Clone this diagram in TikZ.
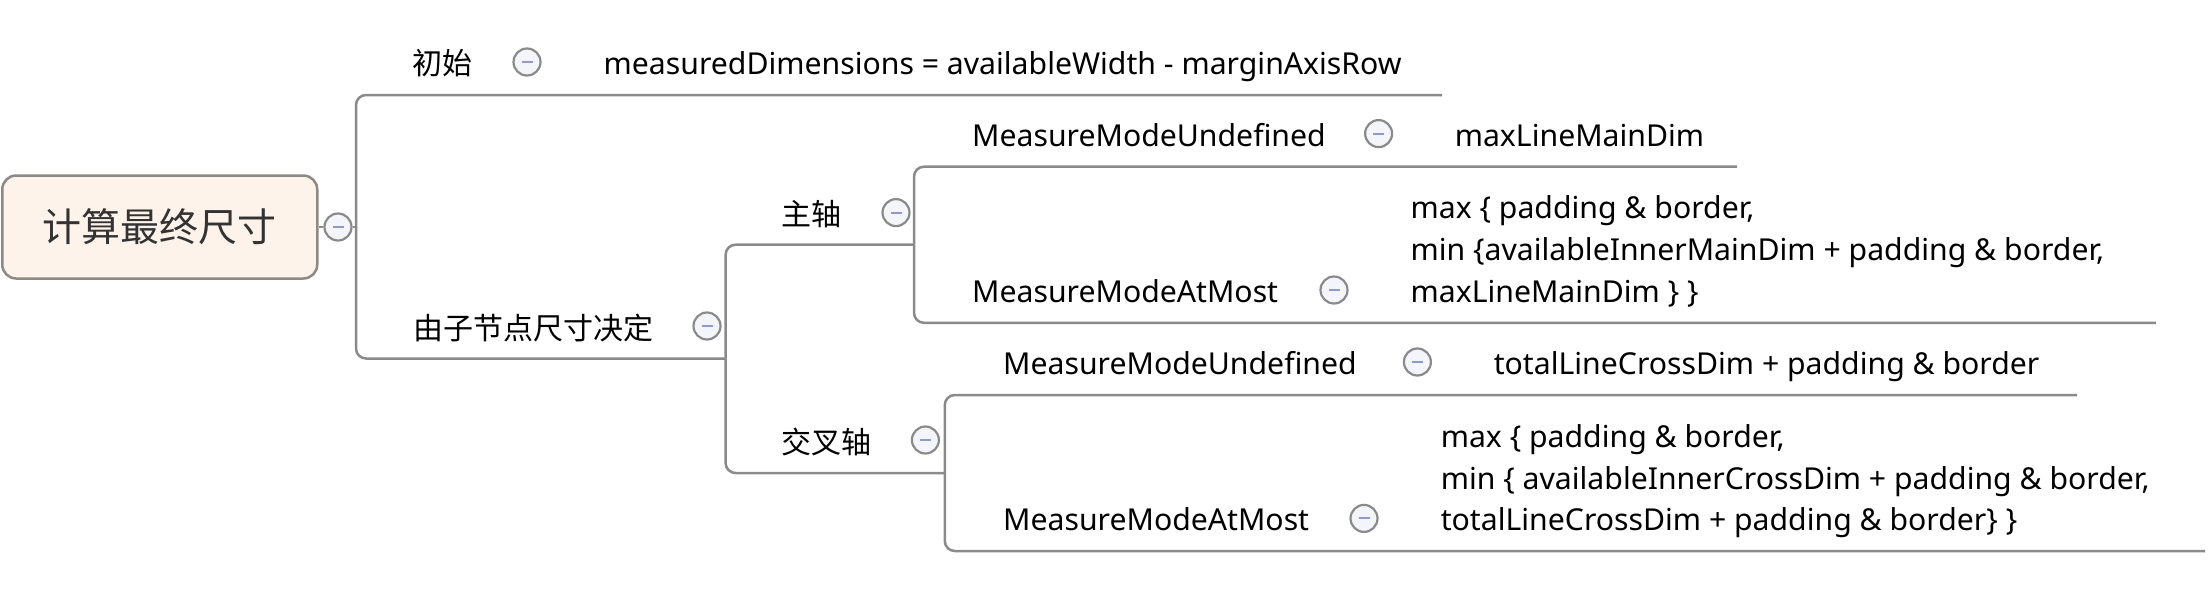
\documentclass[tikz,border=0pt]{standalone}
\usepackage{fontspec}
\setmainfont{Noto Sans}
\newfontfamily\cjk{Noto Sans CJK SC}
\definecolor{linegray}{HTML}{8A8A8A}
\definecolor{rootfill}{HTML}{FDF3EA}
\definecolor{rootdraw}{HTML}{8E8985}
\definecolor{minusblue}{HTML}{8E9AC8}
\definecolor{btnfill}{HTML}{F4F5FA}
\tikzset{
  conn/.style={draw=linegray, line width=2.5pt, rounded corners=10pt},
  btn/.style={circle, draw=linegray, line width=2.2pt, fill=btnfill, minimum size=27pt, inner sep=0pt,
    path picture={\draw[minusblue, line width=2pt] ([xshift=-5.5pt]path picture bounding box.center) -- ([xshift=5.5pt]path picture bounding box.center);}},
  cjklabel/.style={inner sep=0pt, font=\cjk\fontsize{30}{36}\selectfont},
  txt/.style={inner sep=0pt, anchor=base west, font=\fontsize{30.2}{42}\selectfont},
  rootbox/.style={rectangle, rounded corners=14pt, draw=rootdraw, line width=2.5pt, fill=rootfill,
    minimum width=315pt, minimum height=103pt, inner sep=0pt, font=\cjk\fontsize{39}{45}\selectfont, text=black!80}
}
\begin{document}
\begin{tikzpicture}[x=1pt, y=-1pt]
\useasboundingbox (0,0) rectangle (2212,590);
% root
\node[rootbox] (root) at (159.75,227) {计算最终尺寸};
\node[btn] (c0) at (338,227) {};
\coordinate (t1) at (356,227);
\coordinate (e1) at (1442,95);
\coordinate (t2) at (725.6,358.5);
\coordinate (t3) at (914,244.7);
\coordinate (t4) at (944.8,473);
\coordinate (e3a) at (1737,166.7);
\coordinate (e3b) at (2156,322.8);
\coordinate (e4a) at (2077,395);
\coordinate (e4b) at (2205,551);
% connectors
\draw[conn] (root.east) -- (c0.west);
\draw[conn] (c0.east) -- (t1);
\draw[conn] (t1) |- (e1);
\draw[conn] (t1) |- (t2);
\draw[conn] (t2) |- (t3);
\draw[conn] (t2) |- (t4);
\draw[conn] (t3) |- (e3a);
\draw[conn] (t3) |- (e3b);
\draw[conn] (t4) |- (e4a);
\draw[conn] (t4) |- (e4b);
% level 1
\node[cjklabel] (init) at (442.5,63) {初始};
\node[btn] (c1) at (527,62) {};
\node[txt] (initv) at (603.5,74.1) {measuredDimensions = availableWidth - marginAxisRow};
\node[cjklabel] (child) at (533.7,328.4) {由子节点尺寸决定};
\node[btn] (c2) at (707,326) {};
% level 2
\node[cjklabel] (main) at (811.8,214.4) {主轴};
\node[btn] (c3) at (896,212.6) {};
\node[cjklabel] (cross) at (826.8,442) {交叉轴};
\node[btn] (c4) at (925.4,440) {};
% level 3 main
\node[txt] (mu1) at (972,146.7) {MeasureModeUndefined};
\node[btn] (c5) at (1378.6,133.6) {};
\node[txt] (mu1v) at (1454.6,146.7) {maxLineMainDim};
\node[txt] (ma1) at (972,302.9) {MeasureModeAtMost};
\node[btn] (c6) at (1334,290) {};
\node[txt] (ma1v) at (1410.4,218.2) {\vtop{\baselineskip=42.3pt\hbox{max \{ padding \& border,}\hbox{min \{availableInnerMainDim + padding \& border,}\hbox{maxLineMainDim \} \}}}};
% level 3 cross
\node[txt] (mu2) at (1003,374.3) {MeasureModeUndefined};
\node[btn] (c7) at (1417.4,362) {};
\node[txt] (mu2v) at (1493.6,374.3) {totalLineCrossDim + padding \& border};
\node[txt] (ma2) at (1003,530.5) {MeasureModeAtMost};
\node[btn] (c8) at (1364,518.4) {};
\node[txt] (ma2v) at (1440.6,447.7) {\vtop{\baselineskip=41.4pt\hbox{max \{ padding \& border,}\hbox{min \{ availableInnerCrossDim + padding \& border,}\hbox{totalLineCrossDim + padding \& border\} \}}}};
\end{tikzpicture}
\end{document}
